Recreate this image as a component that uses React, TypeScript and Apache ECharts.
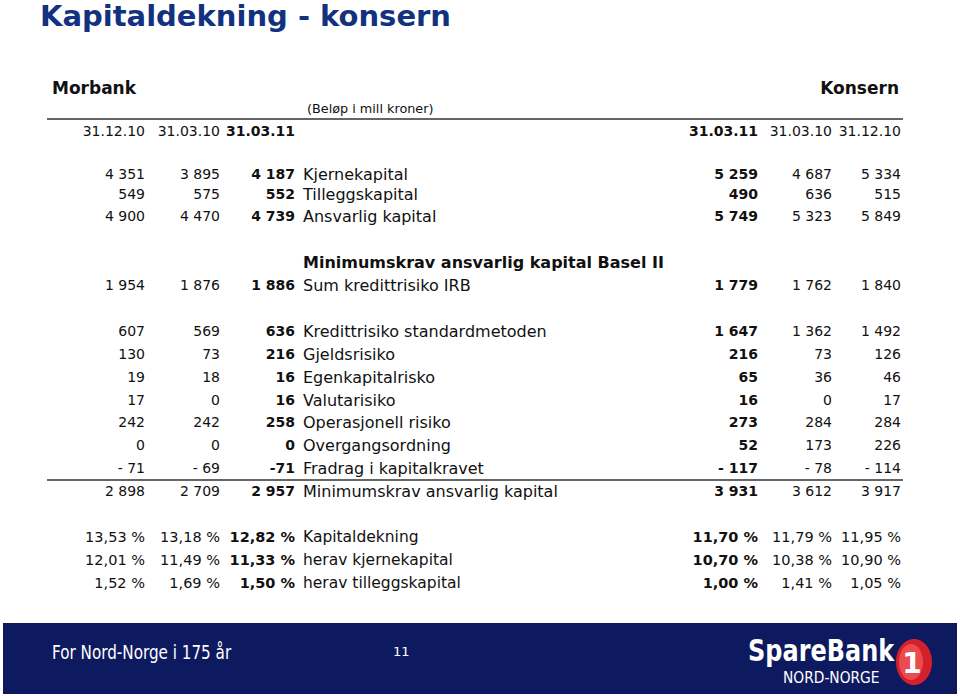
import React, { useEffect, useRef } from "react";
import * as echarts from "echarts";

const title = "Kapitaldekning - konsern";
const unitNote = "(Beløp i mill kroner)";
const morbankDates = ["31.12.10", "31.03.10", "31.03.11"];
const konsernDates = ["31.03.11", "31.03.10", "31.12.10"];

const labels = [
  "Kjernekapital",
  "Tilleggskapital",
  "Ansvarlig kapital",
  "Sum kredittrisiko IRB",
  "Kredittrisiko standardmetoden",
  "Gjeldsrisiko",
  "Egenkapitalrisko",
  "Valutarisiko",
  "Operasjonell risiko",
  "Overgangsordning",
  "Fradrag i kapitalkravet",
  "Minimumskrav ansvarlig kapital",
];
const pctLabels = ["Kapitaldekning", "herav kjernekapital", "herav tilleggskapital"];

const morbank_311210 = [4351, 549, 4900, 1954, 607, 130, 19, 17, 242, 0, -71, 2898];
const morbank_310310 = [3895, 575, 4470, 1876, 569, 73, 18, 0, 242, 0, -69, 2709];
const morbank_310311 = [4187, 552, 4739, 1886, 636, 216, 16, 16, 258, 0, -71, 2957];
const konsern_310311 = [5259, 490, 5749, 1779, 1647, 216, 65, 16, 273, 52, -117, 3931];
const konsern_310310 = [4687, 636, 5323, 1762, 1362, 73, 36, 0, 284, 173, -78, 3612];
const konsern_311210 = [5334, 515, 5849, 1840, 1492, 126, 46, 17, 284, 226, -114, 3917];

const morbankPct_311210 = [13.53, 12.01, 1.52];
const morbankPct_310310 = [13.18, 11.49, 1.69];
const morbankPct_310311 = [12.82, 11.33, 1.5];
const konsernPct_310311 = [11.7, 10.7, 1.0];
const konsernPct_310310 = [11.79, 10.38, 1.41];
const konsernPct_311210 = [11.95, 10.9, 1.05];

// layout (positions only)
const colX = [145, 220, 295, 758, 832, 901];
const labelX = 303;
const rowY = [174, 194, 216, 285, 331, 354, 377, 400, 422, 445, 468, 491];
const pctRowY = [537, 560, 583];
const FONT = "'DejaVu Sans', Verdana, sans-serif";

function fmtNum(v: number, tightNeg: boolean): string {
  const a = Math.abs(v);
  const s = String(a).replace(/\B(?=(\d{3})+(?!\d))/g, " ");
  if (v < 0) return (tightNeg ? "-" : "- ") + s;
  return s;
}
function fmtPct(v: number): string {
  return v.toFixed(2).replace(".", ",") + " %";
}

type Cell = { x: number; y: number; text: string; size: number; bold: boolean; align: string; color?: string };

function buildCells(): Cell[] {
  const cells: Cell[] = [];
  const cols = [morbank_311210, morbank_310310, morbank_310311, konsern_310311, konsern_310310, konsern_311210];
  const pcols = [morbankPct_311210, morbankPct_310310, morbankPct_310311, konsernPct_310311, konsernPct_310310, konsernPct_311210];
  const bold = [false, false, true, true, false, false];
  const dates = [...morbankDates, ...konsernDates];
  dates.forEach((d, i) => cells.push({ x: colX[i], y: 131, text: d, size: 14, bold: bold[i], align: "right" }));
  labels.forEach((l, r) => {
    cells.push({ x: labelX, y: rowY[r], text: l, size: 16, bold: false, align: "left" });
    cols.forEach((c, i) => cells.push({ x: colX[i], y: rowY[r], text: fmtNum(c[r], i === 2), size: 14, bold: bold[i], align: "right" }));
  });
  pctLabels.forEach((l, r) => {
    cells.push({ x: labelX, y: pctRowY[r], text: l, size: 15.5, bold: false, align: "left" });
    pcols.forEach((c, i) => cells.push({ x: colX[i], y: pctRowY[r], text: fmtPct(c[r]), size: 14.5, bold: bold[i], align: "right" }));
  });
  cells.push({ x: labelX, y: 262, text: "Minimumskrav ansvarlig kapital Basel II", size: 16, bold: true, align: "left" });
  cells.push({ x: 52, y: 88, text: "Morbank", size: 17, bold: true, align: "left" });
  cells.push({ x: 899, y: 88, text: "Konsern", size: 17, bold: true, align: "right" });
  cells.push({ x: 307, y: 108, text: unitNote, size: 12.8, bold: false, align: "left" });
  cells.push({ x: 40, y: 16, text: title, size: 29, bold: true, align: "left", color: "#12317f" });
  return cells;
}

export default function App() {
  const ref = useRef<HTMLDivElement>(null);
  useEffect(() => {
    document.body.style.margin = "0";
    if (!ref.current) return;
    const chart = echarts.init(ref.current, undefined, { renderer: "svg" });
    const cells = buildCells();
    const lines = [
      { x1: 47, x2: 903, y: 119 },
      { x1: 47, x2: 903, y: 480 },
    ];
    chart.setOption({
      animation: false,
      backgroundColor: "#ffffff",
      grid: { left: 0, top: 0, right: 0, bottom: 0 },
      xAxis: { type: "value", min: 0, max: 960, show: false },
      yAxis: { type: "value", min: 0, max: 696, inverse: true, show: false },
      series: [
        {
          type: "custom",
          coordinateSystem: "cartesian2d",
          data: lines.map((l) => [l.x1, l.y, l.x2]),
          renderItem: (params: any, api: any) => {
            const a = api.coord([api.value(0), api.value(1)]);
            const b = api.coord([api.value(2), api.value(1)]);
            return {
              type: "line",
              shape: { x1: a[0], y1: a[1], x2: b[0], y2: b[1] },
              style: { stroke: "#333", lineWidth: 1.5 },
            };
          },
        },
        {
          type: "custom",
          coordinateSystem: "cartesian2d",
          data: cells.map((c) => [c.x, c.y]),
          renderItem: (params: any, api: any) => {
            const c = cells[params.dataIndex];
            const p = api.coord([api.value(0), api.value(1)]);
            return {
              type: "text",
              x: p[0],
              y: p[1],
              style: {
                text: c.text,
                fontSize: c.size,
                fontWeight: c.bold ? "bold" : "normal",
                fontFamily: FONT,
                fill: c.color || "#111",
                align: c.align,
                verticalAlign: "middle",
              },
            };
          },
        },
      ],
      graphic: [
        { type: "rect", shape: { x: 3, y: 623, width: 954, height: 71 }, style: { fill: "#0e1a60" } },
        {
          type: "text", x: 52, y: 652, scaleX: 0.8,
          style: { text: "For Nord-Norge i 175 år", fill: "#fff", fontSize: 19, fontFamily: FONT, verticalAlign: "middle" },
        },
        {
          type: "text", x: 393, y: 651,
          style: { text: "11", fill: "#fff", fontSize: 13, fontFamily: FONT, verticalAlign: "middle" },
        },
        {
          type: "text", x: 748, y: 651, scaleX: 0.8,
          style: { text: "SpareBank", fill: "#fff", fontSize: 30, fontWeight: "bold", fontFamily: FONT, verticalAlign: "middle" },
        },
        {
          type: "text", x: 783, y: 678, scaleX: 0.92,
          style: { text: "NORD-NORGE", fill: "#fff", fontSize: 15, fontFamily: FONT, verticalAlign: "middle" },
        },
        { type: "ellipse", shape: { cx: 914, cy: 662, rx: 18, ry: 23 }, style: { fill: "#d3202a" } },
        { type: "ellipse", shape: { cx: 911, cy: 662, rx: 12, ry: 18 }, style: { fill: "#e94b4f" } },
        {
          type: "text", x: 912, y: 663,
          style: { text: "1", fill: "#fff", fontSize: 28, fontWeight: "bold", fontFamily: FONT, align: "center", verticalAlign: "middle" },
        },
      ],
    });
    return () => chart.dispose();
  }, []);
  return <div ref={ref} style={{ width: 960, height: 696 }} />;
}
